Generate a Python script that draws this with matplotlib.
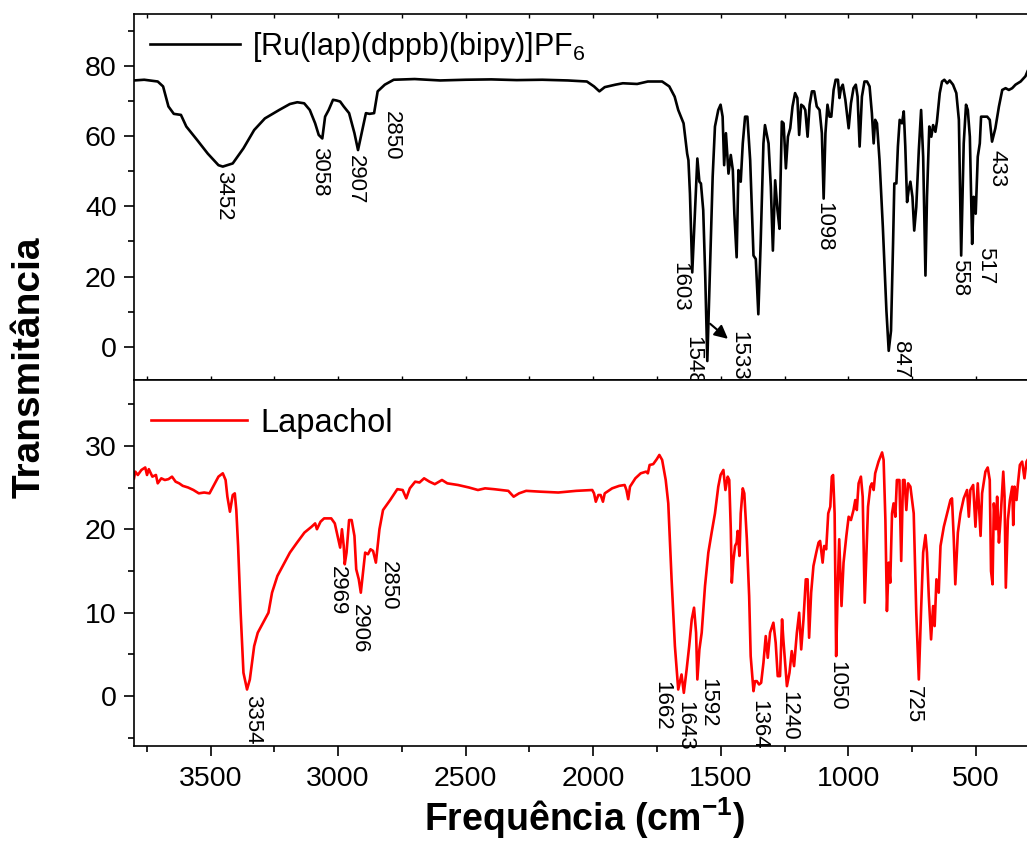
import matplotlib
matplotlib.use("Agg")
import matplotlib.pyplot as plt
from matplotlib.ticker import MultipleLocator

plt.rcParams['font.family'] = ['Liberation Sans', 'DejaVu Sans']
plt.rcParams['mathtext.fontset'] = 'custom'
plt.rcParams['mathtext.rm'] = 'Liberation Sans'
plt.rcParams['mathtext.it'] = 'Liberation Sans:italic'
plt.rcParams['mathtext.bf'] = 'Liberation Sans:bold'

# ---------------- data ----------------
ru_label = "[Ru(lap)(dppb)(bipy)]PF$_6$"
lap_label = "Lapachol"

ru_w = [3800, 3760, 3707, 3686, 3665, 3644, 3616, 3595, 3553, 3511, 3469, 3452, 3413, 3371,
        3329, 3287, 3231, 3189, 3160, 3133, 3111, 3090, 3076, 3062, 3051, 3037, 3020, 3006,
        2992, 2978, 2957, 2936, 2922, 2908, 2891, 2877, 2859, 2845, 2817, 2782, 2700, 2600,
        2500, 2400, 2300, 2200, 2100, 2025, 1997, 1976, 1955, 1913, 1884, 1828, 1786, 1730,
        1702, 1681, 1667, 1646, 1632, 1627, 1621, 1612, 1601, 1592, 1584, 1578, 1569, 1561,
        1553, 1542, 1532, 1523, 1510, 1501, 1493, 1487, 1480, 1470, 1461, 1453, 1447, 1438,
        1431, 1422, 1414, 1405, 1396, 1385, 1372, 1363, 1353, 1344, 1333, 1327, 1313, 1304,
        1296, 1287, 1278, 1270, 1261, 1254, 1245, 1237, 1228, 1219, 1209, 1200, 1193, 1185,
        1176, 1169, 1160, 1152, 1143, 1134, 1124, 1113, 1104, 1097, 1090, 1082, 1074, 1067,
        1058, 1050, 1041, 1035, 1029, 1022, 1012, 999, 990, 980, 971, 964, 956, 947, 937,
        927, 917, 908, 901, 895, 888, 878, 865, 851, 842, 833, 825, 820, 812, 806, 799, 790,
        783, 777, 770, 764, 757, 749, 742, 734, 724, 715, 707, 698, 692, 683, 675, 668, 659,
        653, 642, 633, 624, 613, 603, 590, 577, 567, 558, 548, 539, 532, 524, 515, 509, 501,
        493, 485, 480, 469, 456, 446, 437, 424, 410, 397, 384, 371, 358, 345, 325, 306, 298]
ru_t = [75.8, 76.0, 75.5, 74.1, 68.4, 66.3, 66.0, 62.7, 58.9, 55.0, 51.7, 51.3, 52.2, 56.5,
        61.7, 65.0, 67.4, 69.1, 69.6, 69.3, 67.4, 63.6, 60.3, 59.3, 65.5, 67.4, 70.3, 70.1,
        69.8, 68.4, 66.5, 60.8, 56.0, 60.8, 66.5, 66.3, 66.5, 72.7, 74.6, 76.0, 76.2, 75.8,
        76.0, 76.1, 75.9, 76.0, 75.8, 75.5, 74.1, 72.7, 73.9, 74.6, 75.0, 74.8, 75.5, 75.5,
        74.1, 71.2, 67.4, 63.6, 55.0, 53.1, 43.6, 21.2, 38.9, 53.6, 47.0, 46.5, 38.9, 19.8,
        -4.0, 23.6, 48.4, 62.7, 67.4, 68.9, 65.5, 51.7, 60.8, 49.3, 54.6, 50.3, 37.9, 25.5,
        50.3, 47.0, 57.9, 65.5, 65.5, 53.1, 26.0, 25.0, 9.3, 29.3, 57.9, 63.1, 57.9, 45.5,
        27.4, 47.4, 38.9, 33.6, 64.1, 63.6, 50.8, 59.8, 62.2, 68.4, 72.2, 70.8, 60.3, 68.9,
        68.4, 67.4, 59.8, 68.9, 72.7, 72.7, 68.4, 67.4, 60.8, 42.2, 60.8, 68.9, 65.5, 65.5,
        73.1, 76.0, 76.0, 70.8, 73.6, 74.6, 70.3, 62.2, 69.3, 73.6, 74.6, 71.2, 57.0, 71.2, 75.5,
        75.5, 74.1, 66.5, 57.9, 64.6, 63.6, 53.1, 34.1, 10.3, -1.1, 4.6, 29.3, 46.5, 46.5, 57.0, 64.6, 63.6,
        67.0, 57.0, 41.2, 44.6, 47.0, 42.7, 33.1, 39.8, 56.0, 67.4, 54.1, 20.3, 42.7, 62.7, 59.8, 63.1, 61.2,
        64.1, 72.2, 75.5, 76.0, 75.0, 75.8, 74.6, 72.2, 64.6, 26.0, 57.9, 68.9, 67.4, 59.8, 29.3, 42.7, 37.9,
        54.1, 57.9, 65.5, 65.5, 65.5, 64.6, 58.4, 62.2, 68.4, 73.1, 73.6, 73.1, 73.6, 74.6, 75.5, 77.0, 78.4]

lap_w = [3800, 3795, 3785, 3771, 3756, 3749, 3742, 3728, 3714, 3707, 3693, 3679, 3665, 3651,
         3637, 3623, 3609, 3588, 3567, 3546, 3525, 3504, 3490, 3469, 3452, 3441, 3434, 3424,
         3413, 3405, 3399, 3392, 3382, 3371, 3357, 3346, 3329, 3315, 3294, 3273, 3259, 3238,
         3217, 3189, 3161, 3132, 3104, 3090, 3083, 3069, 3055, 3027, 3013, 2999, 2992, 2985,
         2978, 2974, 2967, 2957, 2947, 2936, 2929, 2919, 2911, 2901, 2894, 2883, 2873, 2863,
         2852, 2838, 2824, 2796, 2768, 2747, 2733, 2719, 2698, 2681, 2663, 2642, 2621, 2593,
         2572, 2530, 2487, 2452, 2424, 2389, 2333, 2312, 2291, 2263, 2207, 2137, 2067, 2004,
         1997, 1990, 1980, 1971, 1962, 1955, 1926, 1898, 1877, 1870, 1863, 1856, 1835, 1814,
         1793, 1786, 1779, 1765, 1751, 1741, 1730, 1716, 1706, 1693, 1680, 1667, 1654, 1645,
         1634, 1624, 1614, 1605, 1597, 1592, 1584, 1575, 1562, 1549, 1536, 1523, 1510, 1501,
         1490, 1482, 1473, 1467, 1461, 1457, 1451, 1444, 1438, 1434, 1427, 1422, 1414, 1408,
         1398, 1389, 1383, 1372, 1366, 1359, 1350, 1342, 1333, 1324, 1316, 1307, 1294, 1285,
         1277, 1268, 1260, 1255, 1241, 1231, 1222, 1213, 1202, 1193, 1185, 1176, 1167, 1160,
         1154, 1146, 1137, 1126, 1117, 1111, 1101, 1095, 1087, 1079, 1071, 1065, 1060, 1054,
         1048, 1041, 1036, 1027, 1019, 1008, 999, 990, 980, 973, 967, 960, 951, 944, 936, 931,
         923, 914, 908, 901, 895, 882, 868, 862, 855, 849, 842, 836, 829, 823, 816, 810, 800,
         793, 786, 780, 773, 766, 757, 744, 734, 724, 715, 707, 698, 692, 685, 676, 668, 662,
         655, 646, 639, 626, 613, 600, 594, 587, 581, 571, 561, 548, 535, 528, 522, 511, 502,
         493, 482, 476, 463, 454, 446, 441, 435, 430, 422, 417, 410, 404, 393, 388, 383, 375,
         367, 358, 354, 349, 341, 336, 328, 319, 310, 302, 298]
lap_t = [26.1, 26.9, 26.5, 27.1, 27.4, 26.5, 27.2, 26.3, 26.5, 25.5, 26.1, 25.9, 26.0, 26.3,
         25.7, 25.5, 25.2, 25.0, 24.7, 24.3, 24.4, 24.3, 25.1, 26.3, 26.7, 25.9, 23.9, 22.1,
         24.1, 24.3, 22.3, 18.0, 10.0, 2.8, 0.8, 2.0, 6.0, 7.6, 8.8, 10.0, 12.4, 14.4,
         15.6, 17.2, 18.4, 19.6, 20.3, 20.7, 20.0, 20.9, 21.3, 21.3, 20.7, 18.8, 17.8, 20.0,
         18.0, 15.8, 17.2, 21.1, 21.1, 19.2, 15.2, 14.0, 12.4, 15.2, 17.2, 17.0, 17.6, 17.4,
         16.0, 20.0, 22.3, 23.5, 24.8, 24.7, 23.7, 24.9, 25.7, 25.6, 26.1, 25.7, 25.4, 25.9,
         25.5, 25.3, 25.0, 24.7, 24.9, 24.8, 24.6, 23.9, 24.3, 24.6, 24.5, 24.4, 24.6, 24.7,
         24.3, 23.3, 24.1, 24.1, 23.3, 24.3, 24.9, 25.2, 25.3, 24.7, 23.6, 25.1, 26.1, 26.7,
         26.9, 26.7, 27.7, 27.8, 28.4, 28.9, 28.3, 25.9, 23.1, 14.0, 6.0, 0.8, 2.6, 0.4,
         3.2, 6.0, 9.2, 10.6, 7.6, 2.0, 5.6, 7.6, 13.2, 17.2, 19.6, 21.9, 25.1, 26.5,
         27.1, 24.7, 26.3, 25.9, 20.0, 13.6, 16.2, 18.0, 18.4, 19.8, 16.8, 21.9, 24.9, 24.3,
         18.8, 12.0, 4.8, 0.6, 1.8, 1.8, 1.4, 1.6, 4.0, 7.2, 4.6, 7.6, 8.8, 6.4,
         2.4, 2.4, 9.2, 6.8, 1.2, 2.8, 5.4, 3.6, 7.6, 10.0, 5.6, 9.2, 14.0, 14.0,
         7.0, 12.4, 15.6, 17.2, 18.4, 18.6, 16.0, 18.0, 17.6, 21.9, 22.7, 26.3, 26.5, 21.9,
         4.8, 14.0, 18.8, 10.8, 16.0, 19.2, 21.5, 21.1, 22.3, 23.5, 22.3, 25.5, 26.3, 23.9, 11.2, 15.6,
         22.7, 25.1, 25.5, 24.7, 26.7, 28.1, 29.2, 28.3, 21.1, 10.2, 16.0, 13.6, 21.9, 23.1, 21.5, 25.9, 25.9,
         16.2, 25.9, 25.9, 22.3, 25.5, 25.1, 21.9, 10.0, 2.0, 10.4, 17.2, 19.3, 17.2, 12.0, 6.8, 10.8, 8.4,
         14.0, 12.4, 18.0, 20.3, 21.9, 23.5, 23.7, 18.8, 13.4, 19.6, 21.9, 23.7, 24.7, 21.5, 24.7, 25.3, 20.3,
         25.5, 19.2, 24.3, 26.9, 27.4, 25.9, 15.0, 13.4, 23.1, 20.0, 23.9, 18.4, 21.1, 26.9, 23.9, 13.0, 21.1,
         23.5, 25.1, 20.5, 25.1, 23.5, 25.3, 27.7, 28.1, 26.1, 28.1, 28.3]

# peak labels (text, x, y of label top)
ru_peaks = [("3452", 3448, 50.0), ("3058", 3072, 57.0), ("2907", 2933, 54.6),
            ("2850", 2792, 67.0), ("1603", 1660, 24.1), ("1548", 1612, 3.1),
            ("1533", 1430, 4.6), ("1098", 1097, 41.2), ("847", 794, 1.7),
            ("558", 565, 25.0), ("517", 463, 28.4), ("433", 417, 56.0)]
lap_peaks = [("3354", 3336, 0.2), ("2969", 3003, 15.6), ("2906", 2917, 11.0),
             ("2850", 2804, 16.2), ("1662", 1730, 1.8), ("1643", 1642, -0.6),
             ("1592", 1553, 2.2), ("1364", 1353, -0.4), ("1240", 1235, 0.6),
             ("1050", 1045, 4.2), ("725", 744, 1.2)]

# ---------------- figure ----------------
W, H = 1027, 846
fig = plt.figure(figsize=(W / 100, H / 100), dpi=100)
L = 134 / W
ax1 = fig.add_axes([L, 1 - 380 / H, 1.0 - L, (380 - 14) / H])
ax2 = fig.add_axes([L, 1 - 746 / H, 1.0 - L, (746 - 380) / H], sharex=ax1)

ax1.plot(ru_w, ru_t, color='black', lw=1.9, label=ru_label, solid_joinstyle='round')
ax2.plot(lap_w, lap_t, color='red', lw=1.9, label=lap_label, solid_joinstyle='round')

ax1.set_xlim(3800, 300)
ax1.set_ylim(-9.4, 94.7)
ax2.set_ylim(-5.97, 37.88)

for ax in (ax1, ax2):
    for s in ax.spines.values():
        s.set_linewidth(1.2)
    ax.spines['right'].set_visible(False)
    ax.xaxis.set_major_locator(MultipleLocator(500))
    ax.xaxis.set_minor_locator(MultipleLocator(250))
    ax.tick_params(axis='y', which='major', direction='out', length=7.5, width=1.2,
                   labelsize=20.5, pad=5)
    ax.tick_params(axis='y', which='minor', direction='out', length=4.5, width=1.2)

ax1.yaxis.set_major_locator(MultipleLocator(20))
ax1.yaxis.set_minor_locator(MultipleLocator(10))
ax2.yaxis.set_major_locator(MultipleLocator(10))
ax2.yaxis.set_minor_locator(MultipleLocator(5))

ax1.tick_params(axis='x', which='both', direction='in', length=3, width=1,
                top=True, bottom=True, labelbottom=False)
ax2.tick_params(axis='x', which='major', direction='out', length=7.5, width=1.2,
                labelsize=20.5, pad=7)
ax2.tick_params(axis='x', which='minor', direction='out', length=4.5, width=1.2)

for txt, x, y in ru_peaks:
    ax1.text(x, y, txt, rotation=270, ha='center', va='top', fontsize=16)
for txt, x, y in lap_peaks:
    ax2.text(x, y, txt, rotation=270, ha='center', va='top', fontsize=16)

ax1.annotate('', xy=(1472, 2.3), xytext=(1542, 6.6),
             arrowprops=dict(arrowstyle='-|>', color='black', lw=1.5, mutation_scale=20,
                             shrinkA=0, shrinkB=0))

ax1.legend(loc='upper left', frameon=False, fontsize=22, handlelength=2.95,
           handletextpad=0.4, borderaxespad=0, bbox_to_anchor=(0.004, 0.99))
ax2.legend(loc='upper left', frameon=False, fontsize=23.5, handlelength=2.95,
           handletextpad=0.4, borderaxespad=0, bbox_to_anchor=(0.004, 0.96))

fig.text(30 / W, 1 - 367 / H, "Transmitância", rotation=90, ha='center', va='center',
         fontsize=28, fontweight='bold')
fig.text(585 / W, 1 - 818 / H, r"Frequência (cm$^{\mathbf{-1}}$)", ha='center', va='center',
         fontsize=27, fontweight='bold')

fig.savefig("out.png", dpi=100)
